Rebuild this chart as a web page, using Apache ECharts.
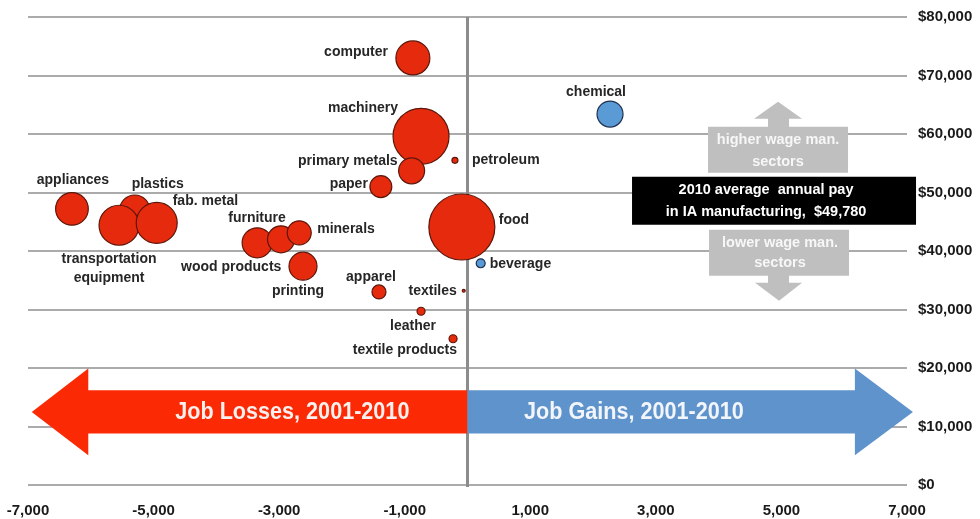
<!DOCTYPE html>
<html><head><meta charset="utf-8">
<script src="https://cdn.jsdelivr.net/npm/echarts@6/dist/echarts.min.js"></script>
<style>html,body{margin:0;padding:0;background:#fff}#c{width:980px;height:519px}</style>
</head><body><div id="c"></div>
<script>
// ---- data ----
const sectors = ['computer','machinery','primary metals','petroleum','paper','appliances','plastics','transportation equipment','fab. metal','wood products','furniture','minerals','printing','food','beverage','apparel','textiles','leather','textile products','chemical'];
const jobChange = [-870,-740,-890,-200,-1380,-6300,-5300,-5550,-4950,-3350,-2970,-2680,-2620,-90,210,-1410,-60,-740,-230,2270];
const avgPay = [73000,59600,53700,55500,51000,47200,47000,44400,44800,41400,42000,43100,37400,44100,37900,33000,33200,29700,25000,63400];
const employment = [10600,28800,6200,330,4400,9800,8300,14700,15400,8300,6700,5300,7200,40000,740,1800,80,590,590,6200];
const xTicks = [-7000,-5000,-3000,-1000,1000,3000,5000,7000];
const yTicks = [0,10000,20000,30000,40000,50000,60000,70000,80000];
const iaAvgPay = 49780;
const arrowLabels = ['Job Losses, 2001-2010','Job Gains, 2001-2010'];
const wageLabels = ['higher wage man.\nsectors','lower wage man.\nsectors'];
const avgLabel = '2010 average  annual pay\nin IA manufacturing,  $' + iaAvgPay.toLocaleString('en-US');

// ---- label placement (style, not data) ----
const labelLayoutMap = {
  'computer': {align:'right', dx:-25, dy:-6},
  'machinery': {align:'right', dx:-23, dy:-28},
  'primary metals': {align:'right', dx:-14, dy:-10},
  'petroleum': {align:'left', dx:17, dy:0},
  'paper': {align:'right', dx:-13, dy:-3},
  'appliances': {align:'center', dx:1, dy:-29},
  'plastics': {align:'center', dx:23, dy:-26},
  'transportation equipment': {align:'center', dx:-10, dy:43, text:'transportation\nequipment'},
  'fab. metal': {align:'left', dx:16, dy:-22},
  'wood products': {align:'center', dx:-26, dy:24},
  'furniture': {align:'center', dx:-24, dy:-21},
  'minerals': {align:'left', dx:18, dy:-4},
  'printing': {align:'center', dx:-5, dy:25},
  'food': {align:'left', dx:37, dy:-7},
  'beverage': {align:'left', dx:9, dy:1},
  'apparel': {align:'center', dx:-8, dy:-15},
  'textiles': {align:'right', dx:-7, dy:0},
  'leather': {align:'center', dx:-8, dy:15},
  'textile products': {align:'right', dx:4, dy:11},
  'chemical': {align:'center', dx:-14, dy:-22}
};

const FONT = '"Liberation Sans", Arial, sans-serif';
const RED = '#e62a0d', RED_BORDER = '#5c160a';
const BLUE = '#5b9bd5', BLUE_BORDER = '#1f3050';

const bubbleData = sectors.map((name, i) => {
  const L = labelLayoutMap[name];
  const gain = jobChange[i] > 0;
  return {
    name: name,
    value: [jobChange[i], avgPay[i], employment[i]],
    itemStyle: {color: gain ? BLUE : RED, borderColor: gain ? BLUE_BORDER : RED_BORDER, borderWidth: 1.2, opacity: 1},
    label: {
      show: true, position: ['50%','50%'], align: L.align, verticalAlign: 'middle',
      formatter: L.text || name, opacity: 1,
      fontFamily: FONT, fontSize: 14, fontWeight: 'bold', color: '#262626', lineHeight: 19
    }
  };
});

const chart = echarts.init(document.getElementById('c'), null, {renderer: 'canvas'});

function zeroLine(params, api) {
  const a = api.coord([0, yTicks[0]]), b = api.coord([0, yTicks[yTicks.length-1]]);
  return {type:'line', shape:{x1:a[0], y1:a[1]+2, x2:b[0], y2:b[1]}, style:{stroke:'#8c8c8c', lineWidth:3}};
}

function jobArrows(params, api) {
  const yc = 12500, bh = 3700, hh = 7400;
  const c = (x, y) => api.coord([x, y]);
  const red = [c(0,yc+bh), c(-6040,yc+bh), c(-6040,yc+hh), c(-6940,yc), c(-6040,yc-hh), c(-6040,yc-bh), c(0,yc-bh)];
  const blue = [c(0,yc+bh), c(6170,yc+bh), c(6170,yc+hh), c(7095,yc), c(6170,yc-hh), c(6170,yc-bh), c(0,yc-bh)];
  const t1 = c(-2790, yc), t2 = c(2650, yc);
  const tf = 'bold 24px ' + FONT;
  return {type:'group', children:[
    {type:'polygon', shape:{points:red}, style:{fill:'#fb2a04'}},
    {type:'polygon', shape:{points:blue}, style:{fill:'#5f93cb'}},
    {type:'text', x:t1[0], y:t1[1], scaleX:0.9, style:{text:arrowLabels[0], fill:'#f8f0ee', font:tf, align:'center', verticalAlign:'middle'}},
    {type:'text', x:t2[0], y:t2[1], scaleX:0.9, style:{text:arrowLabels[1], fill:'#f2f5fa', font:tf, align:'center', verticalAlign:'middle'}}
  ]};
}

function wageNote(params, api) {
  const p = api.coord([4930, iaAvgPay]);
  const x = p[0], y = p[1];
  const grey = '#bfbfbf';
  const f = 'bold 14.5px ' + FONT;
  return {type:'group', children:[
    {type:'polygon', shape:{points:[[x-9,y-66],[x+12,y-66],[x+12,y-75],[x+25,y-75],[x+1,y-92],[x-23,y-75],[x-9,y-75]]}, style:{fill:grey}},
    {type:'rect', shape:{x:x-69, y:y-67, width:140, height:46}, style:{fill:grey}},
    {type:'text', x:x+1, y:y-43, style:{text:wageLabels[0], fill:'#f7f7f7', font:f, align:'center', verticalAlign:'middle', lineHeight:22}},
    {type:'polygon', shape:{points:[[x-9,y+81],[x+12,y+81],[x+12,y+89],[x+25,y+89],[x+2,y+107],[x-22,y+89],[x-9,y+89]]}, style:{fill:grey}},
    {type:'rect', shape:{x:x-68, y:y+36, width:140, height:46}, style:{fill:grey}},
    {type:'text', x:x+3, y:y+59, style:{text:wageLabels[1], fill:'#f7f7f7', font:f, align:'center', verticalAlign:'middle', lineHeight:20}},
    {type:'rect', shape:{x:x-145, y:y-17, width:284, height:48}, style:{fill:'#000'}},
    {type:'text', x:x-11, y:y+7, style:{text:avgLabel, fill:'#ffffff', font:f, align:'center', verticalAlign:'middle', lineHeight:22}}
  ]};
}

const option = {
  backgroundColor: '#ffffff',
  animation: false,
  grid: {left: 28, right: 73, top: 17, bottom: 34, containLabel: false},
  xAxis: {
    type: 'value', min: xTicks[0], max: xTicks[xTicks.length-1], interval: xTicks[1]-xTicks[0],
    axisLine: {show:false}, axisTick: {show:false}, splitLine: {show:false},
    axisLabel: {formatter: v => v.toLocaleString('en-US'), fontFamily: FONT, fontSize: 15, fontWeight: 'bold', color: '#1a1a1a', margin: 18}
  },
  yAxis: {
    type: 'value', position: 'right', min: yTicks[0], max: yTicks[yTicks.length-1], interval: yTicks[1]-yTicks[0],
    axisLine: {show:false}, axisTick: {show:false},
    splitLine: {show:true, lineStyle: {color:'#ababab', width:2}},
    axisLabel: {formatter: v => '$' + v.toLocaleString('en-US'), fontFamily: FONT, fontSize: 15, fontWeight: 'bold', color: '#1a1a1a', margin: 11}
  },
  series: [
    {type:'custom', name:'zero', z:1, silent:true, clip:false, data:[[0,0]], renderItem: zeroLine},
    {type:'custom', name:'arrows', z:2, silent:true, clip:false, data:[[0,0]], renderItem: jobArrows},
    {type:'custom', name:'wage', z:2, silent:true, clip:false, data:[[0,0]], renderItem: wageNote},
    {
      type:'scatter', name:'sectors', z:3,
      symbolSize: v => 0.33 * Math.sqrt(v[2]),
      data: bubbleData,
      labelLayout: function (params) {
        const L = labelLayoutMap[sectors[params.dataIndex]];
        return {dx: L.dx, dy: L.dy, align: L.align, verticalAlign: 'middle', hideOverlap: false};
      }
    }
  ]
};
chart.setOption(option);
</script>
</body></html>
